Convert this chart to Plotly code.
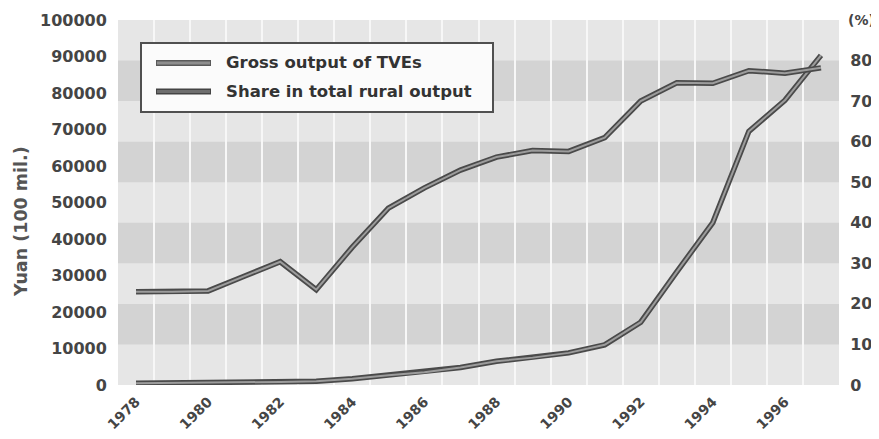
import plotly.graph_objects as go

years = list(range(1978, 1998))
gross_output = [500, 550, 650, 750, 850, 1000, 1700, 2700, 3500, 4800,
                6500, 7500, 8800, 11000, 17200, 31000, 44500, 69500, 78000, 90300]
rural_share = [23.0, 23.0, 23.2, 26.8, 30.4, 23.5, 34.0, 43.6, 48.6, 53.0,
               56.2, 57.8, 57.6, 61.0, 70.0, 74.5, 74.4, 77.5, 76.9, 78.2]
left_ticks = [0, 10000, 20000, 30000, 40000, 50000, 60000, 70000, 80000, 90000, 100000]
left_labels = [str(v) for v in left_ticks]
right_ticks = [0, 10, 20, 30, 40, 50, 60, 70, 80]
right_labels = ["0", "10", "20", "30", "40", "50", "60", "70", "80"]
right_unit = "(%)"
year_ticks = list(range(1978, 1997, 2))
names = ["Gross output of TVEs", "Share in total rural output"]

FONT = "DejaVu Sans"
TXT = "#454545"
OUTER = "#4a4a4a"
INNER = "#9c9c9c"

fig = go.Figure()
for vals, axis in [(gross_output, "y"), (rural_share, "y2")]:
    fig.add_trace(go.Scatter(x=years, y=vals, yaxis=axis, mode="lines",
                             line=dict(color=OUTER, width=5.5), showlegend=False,
                             hoverinfo="skip"))
    fig.add_trace(go.Scatter(x=years, y=vals, yaxis=axis, mode="lines",
                             line=dict(color=INNER, width=2), showlegend=False))

shapes = []
# alternating horizontal bands
for lo in [10, 30, 50, 70]:
    shapes.append(dict(type="rect", xref="x domain", yref="y2", x0=0, x1=1,
                       y0=lo, y1=lo + 10, fillcolor="#d3d3d3", line=dict(width=0),
                       layer="below"))

# manual legend (positions given in page pixels, converted to paper coords)
def px(x):
    return (x - 118) / 721

def py(y):
    return (385 - y) / 365

shapes.append(dict(type="rect", xref="paper", yref="paper", x0=px(141), x1=px(493),
                   y0=py(112), y1=py(43), fillcolor="#fbfbfb",
                   line=dict(color="#505050", width=2), layer="above"))
annotations = []
legend_colors = [("#5a5a5a", "#8e8e8e"), ("#444444", "#6e6e6e")]
for i, (name, (oc, ic)) in enumerate(zip(names, legend_colors)):
    yy = py(63 + 28.5 * i)
    shapes.append(dict(type="line", xref="paper", yref="paper", x0=px(156), x1=px(211),
                       y0=yy, y1=yy, line=dict(color=oc, width=6), layer="above"))
    shapes.append(dict(type="line", xref="paper", yref="paper", x0=px(157), x1=px(210),
                       y0=yy, y1=yy, line=dict(color=ic, width=3), layer="above"))
    annotations.append(dict(xref="paper", yref="paper", x=px(224), y=yy, text=name,
                            showarrow=False, xanchor="left", yanchor="middle",
                            font=dict(family=FONT, size=16.5, color="#333333", weight="bold")))

annotations.append(dict(xref="paper", yref="paper", x=px(21), y=py(222),
                        text="Yuan (100 mil.)", textangle=-90, showarrow=False,
                        xanchor="center", yanchor="middle",
                        font=dict(family=FONT, size=17.5, color="#555555", weight="bold")))
annotations.append(dict(xref="paper", yref="paper", x=px(846), y=py(20),
                        text=right_unit, showarrow=False, xanchor="left", yanchor="middle",
                        font=dict(family=FONT, size=14, color=TXT, weight="bold")))

tickfont = dict(family=FONT, size=16, color=TXT, weight="bold")
xtickfont = dict(family=FONT, size=14, color=TXT, weight="bold")

# page has an 8px body margin: figure is drawn at (8, 8)
fig.update_layout(
    width=871, height=423,
    margin=dict(l=110, r=40, t=12, b=46, autoexpand=False),
    paper_bgcolor="white",
    plot_bgcolor="#e6e6e6",
    showlegend=False,
    shapes=shapes,
    annotations=annotations,
    xaxis=dict(range=[1977.5, 1997.5], tickvals=year_ticks, tickangle=-45,
               tickfont=xtickfont, showgrid=False, zeroline=False, showline=False,
               ticks="outside", ticklen=2, tickcolor="rgba(0,0,0,0)", automargin=False,
               minor=dict(tick0=1978.5, dtick=1, showgrid=True, gridcolor="#f7f7f7",
                          gridwidth=2, ticks="")),
    yaxis=dict(range=[0, 100000], tickvals=left_ticks, ticktext=left_labels,
               tickfont=tickfont, automargin=False,
               showgrid=False, zeroline=False, showline=False, ticks="outside",
               ticklen=7, tickcolor="rgba(0,0,0,0)"),
    yaxis2=dict(range=[0, 90], tickvals=right_ticks, ticktext=right_labels,
                overlaying="y", side="right", tickfont=tickfont, showgrid=False,
                automargin=False,
                zeroline=False, showline=False, ticks="outside", ticklen=7,
                tickcolor="rgba(0,0,0,0)"),
)

fig.write_html("out.html")
